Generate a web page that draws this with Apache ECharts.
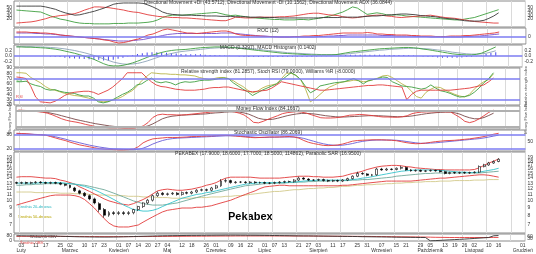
<!DOCTYPE html>
<html><head><meta charset="utf-8">
<script src="https://cdn.jsdelivr.net/npm/echarts@6/dist/echarts.min.js"></script>
<style>html,body{margin:0;padding:0;background:#fff}#c{width:536px;height:254px}</style>
</head><body><div id="c"></div>
<script>
const categories = ['2020-01-30','2020-02-03','2020-02-05','2020-02-07','2020-02-11','2020-02-13','2020-02-17','2020-02-19','2020-02-21','2020-02-25','2020-02-27','2020-03-02','2020-03-04','2020-03-06','2020-03-10','2020-03-12','2020-03-17','2020-03-19','2020-03-23','2020-03-25','2020-03-27','2020-04-01','2020-04-03','2020-04-07','2020-04-09','2020-04-14','2020-04-16','2020-04-20','2020-04-23','2020-04-27','2020-04-29','2020-05-04','2020-05-06','2020-05-08','2020-05-12','2020-05-14','2020-05-18','2020-05-20','2020-05-22','2020-05-26','2020-05-28','2020-06-01','2020-06-03','2020-06-05','2020-06-09','2020-06-12','2020-06-16','2020-06-18','2020-06-22','2020-06-24','2020-06-26','2020-07-01','2020-07-03','2020-07-07','2020-07-09','2020-07-13','2020-07-15','2020-07-17','2020-07-21','2020-07-23','2020-07-27','2020-07-29','2020-08-03','2020-08-05','2020-08-07','2020-08-11','2020-08-13','2020-08-17','2020-08-19','2020-08-21','2020-08-25','2020-08-27','2020-08-31','2020-09-01','2020-09-03','2020-09-07','2020-09-09','2020-09-11','2020-09-15','2020-09-17','2020-09-21','2020-09-23','2020-09-25','2020-09-29','2020-10-01','2020-10-05','2020-10-07','2020-10-09','2020-10-13','2020-10-15','2020-10-19','2020-10-22','2020-10-26','2020-10-28','2020-11-02','2020-11-04','2020-11-06','2020-11-10','2020-11-12','2020-11-16','2020-11-18','2020-11-20','2020-11-24','2020-11-26','2020-12-01'];
const monthNames = ['Styczeń','Luty','Marzec','Kwiecień','Maj','Czerwiec','Lipiec','Sierpień','Wrzesień','Październik','Listopad','Grudzień'];

// Panel 1: Directional Movement
const adx = [53,53,53,53,53,53,51,48,45,40,36,33,30,31,34,37,40,44,48,53,58,60,61,61,61,61,60,56,51,45,38,34,32,31,30,30,30,29,29,28,28,28,27,27,27,26,26,26,25,25,25,24,24,24,23,23,23,23,23,23,23,23,23,24,24,24,24,25,25,25,25,26,27,28,28,29,30,31,32,33,33,32,31,29,28,27,26,24,22,21,20,18,16,15,15,15,17,22,28,36];
const plusDI = [43,42,41,40,39,38,33,28,24,20,18,15,12,10,9,9,8,8,8,8,9,9,9,10,10,10,11,12,14,18,24,28,30,30,30,31,32,33,34,35,36,37,34,31,29,30,28,26,24,23,22,21,20,19,19,18,18,18,19,19,18,20,22,24,27,30,34,38,44,51,48,40,32,34,36,34,31,30,31,30,28,27,26,25,24,23,22,21,20,19,18,18,20,22,24,28,32,36,40,44];
const minusDI = [10,11,12,13,15,18,21,25,27,29,30,32,34,38,43,47,51,51,50,49,47,45,43,40,38,37,34,31,29,27,26,25,24,24,23,23,22,21,20,19,18,17,16,16,20,25,24,23,23,24,25,25,25,25,26,26,27,28,30,32,34,35,35,33,31,30,29,26,24,23,24,26,28,29,30,30,28,27,25,24,25,26,27,28,29,30,28,26,24,23,22,20,18,16,14,13,12,11,10,10];
// Panel 2: ROC
const roc = [5,5,5,4.5,4.5,4,4,3.5,3,2,1.5,1,0.5,0,-0.5,-1,-1.5,-2,-3,-3.5,-5,-6,-5.5,-4.5,-3,-2,0,2,3,5,7,8,7,6,5,4,4,3.5,4,4.5,5,5.5,6,6,5,3,2,1.5,1.5,1,1,0.5,0.5,0,0,0,0,0.5,0.5,1,1,1.5,1.5,2,2.5,3,3.5,4,4,4,4,4,4.5,4,3,3,2.5,2.5,2,2,2,1.5,1.5,1,1,1,0.5,0.5,0.5,1,1,1,1.5,1.5,2,2.5,3,3.5,4,5];
const rocSignal = [4,4,4,4,3.5,3.5,3,3,2.5,2,1.5,1,0.5,0,-0.5,-1,-1.5,-2,-2.5,-3,-3.5,-4,-4,-4,-3.5,-3,-2.5,-1.5,-0.5,0.5,1.5,2.5,3,3.5,3.5,3.5,3.5,3.5,3.5,3.5,3.5,3.5,4,4,4,3.5,3,2.5,2,1.5,1,1,0.5,0.5,0,0,0,0,0,0,0,0,0.5,0.5,1,1,1.5,1.5,2,2,2,2,2,2,2,1.5,1.5,1.5,1,1,1,1,0.5,0.5,0.5,0,0,0,0,0,0,0,0.5,0.5,1,1,1.5,2,2.5,3];
// Panel 3: MACD
const macd = [0.33,0.33,0.32,0.32,0.31,0.3,0.29,0.27,0.25,0.22,0.18,0.14,0.1,0.05,0,-0.06,-0.12,-0.2,-0.28,-0.34,-0.36,-0.36,-0.34,-0.3,-0.25,-0.19,-0.12,-0.05,0.02,0.08,0.13,0.17,0.2,0.22,0.23,0.24,0.26,0.28,0.3,0.31,0.32,0.33,0.33,0.33,0.32,0.3,0.28,0.26,0.24,0.22,0.2,0.18,0.16,0.14,0.12,0.1,0.09,0.08,0.07,0.06,0.05,0.04,0.04,0.04,0.04,0.04,0.05,0.08,0.11,0.14,0.16,0.18,0.2,0.22,0.24,0.26,0.27,0.28,0.29,0.3,0.31,0.31,0.3,0.28,0.25,0.23,0.2,0.17,0.14,0.11,0.08,0.06,0.05,0.04,0.04,0.06,0.1,0.17,0.25,0.33];
const macdSignal = [0.34,0.34,0.34,0.34,0.33,0.33,0.32,0.31,0.3,0.28,0.26,0.23,0.2,0.16,0.12,0.07,0.02,-0.04,-0.1,-0.16,-0.22,-0.26,-0.29,-0.3,-0.29,-0.27,-0.23,-0.18,-0.12,-0.06,0,0.05,0.09,0.13,0.16,0.18,0.2,0.22,0.24,0.26,0.28,0.29,0.3,0.31,0.31,0.31,0.3,0.29,0.28,0.26,0.24,0.22,0.2,0.18,0.16,0.14,0.12,0.11,0.1,0.09,0.08,0.07,0.06,0.05,0.05,0.05,0.05,0.06,0.07,0.09,0.11,0.13,0.15,0.17,0.19,0.21,0.22,0.24,0.25,0.26,0.27,0.28,0.28,0.28,0.27,0.26,0.24,0.22,0.2,0.17,0.14,0.12,0.1,0.08,0.07,0.07,0.08,0.1,0.14,0.19];
const macdHist = [0,0,0,0,0,0,0,-0.02,-0.03,-0.04,-0.06,-0.08,-0.09,-0.1,-0.11,-0.12,-0.13,-0.14,-0.16,-0.17,-0.14,-0.1,-0.06,-0.02,0.03,0.07,0.1,0.13,0.14,0.14,0.13,0.12,0.11,0.09,0.07,0.06,0.06,0.06,0.06,0.05,0.04,0.04,0.03,0.02,0.01,0,-0.02,-0.03,-0.04,-0.04,-0.04,-0.04,-0.04,-0.04,-0.04,-0.04,-0.03,-0.03,-0.03,-0.03,-0.03,-0.03,-0.02,-0.01,-0.01,-0.01,0,0.02,0.04,0.05,0.05,0.05,0.05,0.05,0.05,0.05,0.05,0.04,0.04,0.04,0.04,0.03,0.02,0,-0.02,-0.03,-0.04,-0.05,-0.06,-0.06,-0.06,-0.06,-0.05,-0.04,-0.03,-0.01,0.02,0.07,0.11,0.14];
// Panel 4: RSI family
const williamsR = [64,64,65,60,57,55,50,48,49,46,44,43,42,39,37,37,33,26,24,26,30,35,40,44,50,58,60,66,71,64,62,64,62,58,62,64,63,64,66,67,67,68,70,71,70,62,56,50,45,38,43,48,52,56,60,67,74,81,76,68,55,43,48,56,58,60,62,63,64,67,70,66,60,66,68,70,73,72,64,60,56,55,54,52,50,52,58,52,47,45,42,38,35,36,38,44,52,62,70,81];
const stochRsi = [81,81,80,72,67,62,55,50,48,45,42,40,38,37,35,33,30,28,26,27,29,32,36,42,47,55,66,74,81,80,79,79,78,78,77,77,76,75,72,70,68,70,72,72,70,66,60,55,48,43,46,52,56,58,60,70,80,80,76,68,50,26,32,40,48,54,58,62,64,65,67,66,64,65,68,71,75,76,72,66,60,55,46,36,33,44,50,54,53,48,44,40,37,35,40,50,58,64,68,79];
const rsi = [73,72,70,55,35,26,25,24,27,32,38,42,44,45,46,46,44,40,44,48,54,62,70,81,81,81,81,72,64,58,55,54,52,50,49,48,48,48,49,50,52,53,53,54,54,52,50,48,46,45,46,47,48,52,58,64,62,60,58,56,54,52,50,48,48,49,50,51,52,53,54,55,56,57,57,58,58,57,56,55,54,30,40,46,48,48,48,48,48,48,48,49,50,51,52,54,56,58,64,71];
// Panel 5: Money Flow Index
const mfi = [84,83,82,80,78,76,72,66,58,50,44,40,37,33,28,24,20,18,16,15,15,15,14,14,14,16,22,35,55,65,68,66,66,65,65,66,68,70,72,74,76,78,80,80,80,77,72,65,52,36,34,40,48,55,62,70,74,76,78,76,72,66,60,54,53,53,54,56,60,64,65,67,66,64,62,59,57,57,56,56,58,62,70,74,76,77,77,77,78,77,77,66,55,40,35,40,50,62,75,84];
const mfiSignal = [82,82,81,80,79,77,75,71,67,62,57,52,47,43,39,35,31,28,25,22,20,18,17,16,16,16,18,22,30,40,50,56,60,62,64,65,66,67,68,69,71,73,74,76,77,77,76,73,68,60,52,48,47,48,52,57,62,66,69,71,71,70,68,65,62,60,58,57,57,58,59,60,61,62,62,62,61,60,59,58,58,59,61,64,67,70,72,74,75,76,76,73,68,60,54,50,50,55,63,72];
// Panel 6: Stochastic
const stochK = [86,85,84,82,80,79,78,72,66,60,55,48,42,36,32,28,24,20,18,17,16,15,15,16,18,28,45,55,62,64,66,68,68,68,69,70,72,72,73,74,75,76,77,77,76,74,72,70,68,67,68,69,70,70,70,71,72,70,65,55,47,42,38,34,33,34,36,40,46,52,55,56,57,58,58,58,57,56,54,50,46,43,41,42,44,47,50,52,54,55,56,58,60,62,65,68,72,77,82,86];
const stochD = [84,84,83,82,81,80,78,75,71,66,61,55,50,45,40,35,31,27,24,21,19,18,17,16,16,17,22,30,40,48,55,60,63,65,66,67,68,69,70,71,72,73,74,75,75,75,74,72,71,69,68,68,69,69,70,70,70,70,68,64,58,52,46,41,37,35,34,35,38,42,47,51,54,56,57,57,57,57,56,54,51,48,45,43,43,44,45,47,49,51,53,55,57,59,61,63,66,70,74,78];
// Panel 7: price
const open = [13.1,13.0,13.1,13.0,13.1,13.2,13.1,13.0,13.1,13.0,12.8,12.6,12.1,11.6,11.2,10.8,10.3,9.6,8.8,8.1,8.4,8.3,8.4,8.3,8.4,8.8,9.2,9.7,10.1,10.8,11.2,11.0,11.1,11.2,11.0,11.3,11.2,11.4,11.7,11.8,11.7,12.1,12.5,13.4,13.5,13.1,13.2,13.2,13.1,13.2,13.1,13.1,13.0,13.0,13.1,13.2,13.3,13.3,13.6,14.0,13.8,13.6,13.6,13.7,13.5,13.4,13.5,13.4,13.6,13.9,14.4,15.0,14.9,14.6,14.7,16.0,15.8,16.0,15.9,16.2,16.4,15.8,15.6,15.7,15.5,15.6,15.7,15.6,15.4,15.0,15.2,15.1,15.2,15.1,15.2,15.3,16.6,17.0,17.5,17.9];
const close = [13.0,13.1,13.0,13.1,13.2,13.1,13.0,13.1,13.0,12.8,12.6,12.2,11.6,11.2,10.8,10.3,9.7,8.8,8.1,8.4,8.3,8.4,8.3,8.4,8.8,9.2,9.7,10.1,10.8,11.2,11.0,11.1,11.2,11.0,11.3,11.2,11.4,11.7,11.8,11.7,12.1,12.5,13.4,13.5,13.1,13.2,13.2,13.1,13.2,13.1,13.1,13.0,13.0,13.1,13.2,13.3,13.3,13.6,14.0,13.8,13.6,13.6,13.7,13.5,13.4,13.5,13.4,13.6,13.9,14.4,15.0,14.9,14.6,14.7,16.0,15.8,16.0,15.9,16.2,16.4,15.8,15.6,15.7,15.5,15.6,15.7,15.6,15.4,15.0,15.2,15.1,15.2,15.1,15.2,15.3,16.6,17.0,17.5,17.9,18.5];
const high = [13.3,13.3,13.3,13.3,13.4,13.4,13.3,13.3,13.3,13.2,12.9,12.7,12.3,11.8,11.4,11.0,10.5,9.8,9.0,8.6,8.6,8.6,8.6,8.6,8.9,9.3,9.8,10.3,11.0,11.5,11.4,11.3,11.4,11.4,11.5,11.5,11.6,11.9,12.0,12.0,12.3,12.7,13.8,13.9,13.7,13.4,13.4,13.4,13.4,13.4,13.3,13.3,13.2,13.3,13.4,13.5,13.5,13.8,14.3,14.2,14.0,13.8,13.9,13.9,13.7,13.7,13.7,13.8,14.1,14.6,15.4,15.3,15.1,14.9,16.3,16.3,16.3,16.2,16.4,16.8,16.6,16.0,15.9,15.9,15.8,15.9,15.9,15.8,15.6,15.4,15.4,15.4,15.4,15.4,15.5,16.9,17.3,17.8,18.2,18.8];
const low = [12.8,12.8,12.8,12.8,12.9,12.9,12.8,12.8,12.8,12.6,12.4,12.0,11.4,11.0,10.6,10.1,9.5,8.5,7.8,7.9,8.1,8.1,8.1,8.1,8.2,8.6,9.0,9.5,9.9,10.6,10.8,10.8,10.9,10.8,10.8,11.0,11.0,11.2,11.5,11.5,11.5,11.9,12.3,13.1,12.9,12.9,13.0,12.9,12.9,12.9,12.9,12.8,12.8,12.8,12.9,13.0,13.1,13.1,13.4,13.6,13.4,13.4,13.4,13.3,13.2,13.2,13.2,13.2,13.4,13.7,14.2,14.7,14.4,14.4,14.5,15.6,15.6,15.7,15.7,15.9,15.6,15.4,15.4,15.3,15.3,15.4,15.4,15.2,14.8,14.8,14.9,14.9,14.9,14.9,15.0,15.1,16.4,16.8,17.3,17.7];
const bbUpper = [14.2,14.3,14.3,14.3,14.2,14.1,14.0,14.0,13.9,13.6,13.4,13.1,12.8,12.3,11.9,11.5,11.1,10.7,10.3,10.0,9.8,9.6,9.5,9.4,9.6,9.9,10.2,10.6,11.1,11.6,11.8,11.9,11.8,11.7,11.7,11.8,11.9,12.1,12.3,12.6,12.8,13.1,13.6,14.0,14.2,14.2,14.2,14.2,14.2,14.1,14.0,14.0,14.0,14.0,14.0,14.1,14.2,14.3,14.4,14.4,14.4,14.3,14.3,14.2,14.2,14.2,14.3,14.4,14.7,15.0,15.2,15.5,15.9,16.2,16.5,16.7,16.8,16.9,16.9,16.8,16.6,16.5,16.3,16.2,16.1,16.0,15.9,15.9,15.8,15.8,15.8,15.8,15.8,15.8,15.9,16.3,16.9,17.5,18.0,18.6];
const bbLower = [9.4,9.6,9.8,10.0,10.2,10.4,10.6,10.8,10.9,10.9,10.9,10.9,10.8,10.6,10.2,9.6,9.0,8.3,7.7,7.2,6.9,6.8,6.8,6.8,6.9,7.0,7.3,7.6,7.9,8.2,8.5,8.7,8.8,8.9,9.0,9.0,9.0,9.1,9.1,9.2,9.3,9.5,9.7,9.9,10.1,10.4,10.7,11.0,11.3,11.6,12.0,12.3,12.4,12.5,12.6,12.6,12.5,12.5,12.5,12.5,12.5,12.5,12.5,12.5,12.5,12.5,12.5,12.6,12.6,12.7,12.8,12.9,13.0,13.1,13.2,13.3,13.4,13.4,13.4,13.4,13.4,13.4,13.5,13.6,13.7,13.8,13.9,14.0,14.0,14.1,14.2,14.3,14.4,14.5,14.6,14.7,14.7,14.6,14.4,14.2];
const ma20 = [13.0,13.0,13.0,13.0,13.0,13.1,13.1,13.1,13.1,13.1,13.0,12.9,12.8,12.6,12.4,12.1,11.8,11.4,11.0,10.6,10.2,9.8,9.4,9.1,8.8,8.7,8.6,8.6,8.7,8.9,9.2,9.5,9.8,10.1,10.4,10.6,10.8,11.0,11.1,11.3,11.4,11.6,11.8,12.0,12.2,12.4,12.6,12.8,12.9,13.0,13.1,13.1,13.1,13.1,13.1,13.1,13.2,13.2,13.3,13.4,13.5,13.5,13.6,13.6,13.6,13.6,13.6,13.6,13.6,13.7,13.8,14.0,14.1,14.3,14.5,14.7,14.9,15.1,15.3,15.5,15.6,15.7,15.8,15.8,15.8,15.8,15.7,15.7,15.6,15.5,15.4,15.3,15.3,15.2,15.2,15.3,15.5,15.7,15.9,16.2];
const ma50 = [12.6,12.6,12.7,12.7,12.8,12.8,12.9,12.9,12.9,12.9,12.9,12.9,12.8,12.7,12.6,12.4,12.2,12.0,11.8,11.5,11.2,10.9,10.6,10.3,10.0,9.8,9.6,9.5,9.4,9.4,9.4,9.5,9.6,9.7,9.9,10.1,10.3,10.5,10.7,10.9,11.1,11.3,11.5,11.7,11.9,12.1,12.3,12.5,12.6,12.7,12.8,12.9,12.9,13.0,13.0,13.0,13.1,13.1,13.2,13.2,13.3,13.3,13.4,13.4,13.4,13.5,13.5,13.5,13.5,13.6,13.6,13.7,13.7,13.8,13.9,14.0,14.1,14.2,14.4,14.5,14.6,14.7,14.8,14.9,15.0,15.0,15.1,15.1,15.1,15.1,15.1,15.1,15.1,15.1,15.1,15.1,15.2,15.3,15.4,15.5];
const ma200 = [11.4,11.4,11.4,11.4,11.3,11.3,11.3,11.3,11.3,11.2,11.2,11.2,11.1,11.1,11.1,11.0,11.0,10.9,10.9,10.9,10.8,10.8,10.8,10.7,10.7,10.7,10.6,10.6,10.6,10.5,10.5,10.5,10.4,10.4,10.4,10.4,10.4,10.5,10.5,10.5,10.6,10.6,10.6,10.7,10.7,10.8,10.8,10.9,11.0,11.1,11.2,11.3,11.4,11.5,11.5,11.6,11.7,11.8,11.8,11.9,12.0,12.0,12.1,12.1,12.2,12.2,12.3,12.4,12.4,12.5,12.6,12.6,12.7,12.7,12.8,12.8,12.9,12.9,13.0,13.0,13.1,13.1,13.2,13.2,13.3,13.3,13.3,13.4,13.4,13.4,13.5,13.5,13.5,13.5,13.6,13.6,13.6,13.7,13.7,13.7];
// Panel 8: On Balance Volume
const obv = [72,72,71,70,70,70,69,68,66,64,62,60,58,56,55,54,53,52,52,52,53,54,56,58,60,62,64,66,68,70,72,73,74,75,76,77,78,78,79,80,80,81,81,82,82,82,81,81,80,80,79,78,77,76,75,74,73,72,71,70,70,69,68,67,66,65,64,63,62,61,60,58,57,56,55,54,53,52,50,49,48,47,46,45,45,-8,-4,0,4,8,12,16,20,25,30,35,40,45,72,76];
const obvAvg = [63,63,63,63,63,63,63,63,63,62,62,62,61,61,61,60,60,60,59,59,59,59,59,59,59,60,60,60,61,61,62,62,63,63,64,64,65,65,66,66,67,67,68,68,68,69,69,69,69,69,69,69,69,69,69,69,69,68,68,68,68,67,67,66,66,65,65,64,64,63,63,62,62,61,60,60,59,58,57,56,56,55,54,53,52,50,48,47,46,45,45,45,45,45,45,45,45,45,46,46];
const priceTicks = [7,8,9,10,11,12,13,14,15,16,17,18,19,20];

const FONT = 'Liberation Sans';
const lab = (extra) => Object.assign({fontSize:5, color:'#333', fontFamily:FONT, margin:2}, extra||{});
const panels = [[1,26],[28,16],[45,22],[68,37],[106,23],[130,21],[152,81],[234,12]];
const grids = panels.map(p => ({left:14, right:10, top:p[0], height:p[1], show:true, borderColor:'#8a8a8a', borderWidth:1, backgroundColor:'#fff'}));

// weekly labels: first category of each calendar week (from the 2nd category on)
const weekOf = c => { const d = new Date(c + 'T00:00:00Z'); const wd = (d.getUTCDay() + 6) % 7; return Math.round((d.getTime() / 86400000 - wd)); };
const labelSet = new Set(); const gridSet = new Set(); const monthStart = new Set();
let prevW = null, prevM = -1, wcount = 0;
categories.forEach((c, i) => {
  const w = weekOf(c);
  if (i > 0 && w !== prevW) {
    labelSet.add(i);
    if (wcount % 2 === 0) gridSet.add(i);
    wcount++;
    const m = +c.slice(5, 7);
    if (m !== prevM) { monthStart.add(i); prevM = m; }
  }
  prevW = w;
});

const xAxes = panels.map((p,k) => ({
  type:'category', gridIndex:k, data:categories, boundaryGap:true,
  axisLine:{show:false}, axisTick:{show:false},
  axisLabel: k === 7 ? {show:true, interval:(i)=>labelSet.has(i), showMaxLabel:true, fontSize:5, color:'#333', fontFamily:FONT, margin:2, lineHeight:5,
     formatter:(v,i)=> monthStart.has(i) ? v.slice(8)+'\n{m|'+monthNames[+v.slice(5,7)-1]+'}' : v.slice(8),
     rich:{m:{fontSize:5, color:'#333', fontFamily:FONT, lineHeight:6}}} : {show:false},
  splitLine:{show:true, interval:(i)=> gridSet.has(i), lineStyle:{color:'#dadada', width:1}}
}));

const yAxes = [];
function addY(g, cfg, side, labelCfg, extra) {
  yAxes.push(Object.assign({type:'value', gridIndex:g, position:side, axisLine:{show:false}, axisTick:{show:false}, splitLine:{show:false}, axisLabel: labelCfg ? lab(labelCfg) : {show:false}}, cfg, extra||{}));
  return yAxes.length - 1;
}
const nameCfg = (n) => ({name:n, nameLocation:'middle', nameGap:4, nameRotate:90, nameTextStyle:{fontSize:4, color:'#555', fontFamily:FONT}});
const y1 = addY(0, {min:0, max:66}, 'left', {customValues:[10,20,30,40,50,60]});
addY(0, {min:0, max:66}, 'right', {customValues:[10,20,30,40,50,60]});
const y2 = addY(1, {min:-7, max:9}, 'left', null);
addY(1, {min:-7, max:9}, 'right', {customValues:[0]});
const y3 = addY(2, {min:-0.4, max:0.4}, 'left', {customValues:[-0.2,0,0.2], formatter:v=>v.toFixed(1)});
addY(2, {min:-0.4, max:0.4}, 'right', {customValues:[-0.2,0,0.2], formatter:v=>v.toFixed(1)});
const y4 = addY(3, {min:20, max:90}, 'left', {customValues:[20,30,40,50,60,70,80,90]});
addY(3, {min:20, max:90}, 'right', null, nameCfg('Relative strength index'));
const y5 = addY(4, {min:10, max:100}, 'left', null, nameCfg('Money Flow Index'));
addY(4, {min:10, max:100}, 'right', null, nameCfg('Money Flow Index'));
const y6 = addY(5, {min:10, max:100}, 'left', {customValues:[20,80]});
addY(5, {min:10, max:100}, 'right', {customValues:[50]});
const y7 = addY(6, {type:'log', logBase:10, min:6.22, max:20.6}, 'left', {customValues:priceTicks});
addY(6, {type:'log', logBase:10, min:6.22, max:20.6}, 'right', {customValues:priceTicks});
const y8 = addY(7, {min:-10, max:100}, 'left', {customValues:[0,80]});
addY(7, {min:-10, max:100}, 'right', {customValues:[0,30,60,90]});

const line = (g, y, data, color, width, extra) => Object.assign({type:'line', xAxisIndex:g, yAxisIndex:y, data, symbol:'none', showSymbol:false, silent:true, lineStyle:{color, width:width||0.9}, itemStyle:{color}, z:3}, extra||{});
const hLines = (vals, color, width) => ({silent:true, symbol:'none', label:{show:false}, lineStyle:{color, width, type:'solid'}, data: vals.map(v => ({yAxis:v}))});

const candleData = close.map((c,i) => [open[i], c, low[i], high[i]]);

const series = [
  line(0, y1, plusDI, '#3f9f3f'),
  line(0, y1, minusDI, '#e23b3b'),
  line(0, y1, adx, '#3a3a3a'),
  line(1, y2, rocSignal, '#7a4fc8', 0.9, {markLine: hLines([0], '#7c7cf2', 1.5)}),
  line(1, y2, roc, '#e23b3b'),
  {type:'bar', xAxisIndex:2, yAxisIndex:y3, data:macdHist, barWidth:1, itemStyle:{color:'#4848e8'}, silent:true, markLine: hLines([0], '#7c7cf2', 1.5)},
  line(2, y3, macdSignal, '#8da4b8'),
  line(2, y3, macd, '#3f9f3f'),
  line(3, y4, stochRsi, '#b9b44a', 0.9, {markLine: hLines([70,30], '#7c7cf2', 1.5)}),
  line(3, y4, williamsR, '#3f9f3f'),
  line(3, y4, rsi, '#e23b3b'),
  line(4, y5, mfiSignal, '#7a4a4a', 0.9, {markLine: hLines([80,20], '#b0b0b0', 2)}),
  line(4, y5, mfi, '#e23b3b'),
  line(5, y6, stochD, '#6a5cd8', 0.9, {markLine: hLines([80,20], '#7c7cf2', 1.5)}),
  line(5, y6, stochK, '#e23b3b'),
  line(6, y7, ma200, '#d2c98a'),
  line(6, y7, bbUpper, '#e23b3b'),
  line(6, y7, bbLower, '#e23b3b'),
  line(6, y7, ma50, '#6fa89a'),
  line(6, y7, ma20, '#35c4cc'),
  {type:'candlestick', xAxisIndex:6, yAxisIndex:y7, data:candleData, barMaxWidth:3, silent:true, z:4,
   itemStyle:{color:'#ffffff', color0:'#000000', borderColor:'#000000', borderColor0:'#000000', borderWidth:0.6}},
  line(7, y8, obvAvg, '#e23b3b'),
  line(7, y8, obv, '#333333')
];

const tstyle = {fontSize:5, fontWeight:'normal', color:'#333', fontFamily:FONT};
const titles = [
  ['Directional Movement +DI (43.5712), Directional Movement -DI (10.1562), Directional Movement ADX (36.0844)', 0],
  ['ROC (12)', 28],
  ['MACD (0.3297), MACD Histogram (0.1402)', 45],
  ['Relative strength index (81.2857), Stoch RSI (79.0000), Williams %R (-8.0000)', 69],
  ['Money Flow Index (84.1667)', 106],
  ['Stochastic Oscillator (86.2069)', 130],
  ['PEKABEX (17.9000, 18.6000, 17.7000, 18.5000, 114862), Parabolic SAR (16.9500)', 151]
].map(t => ({text:t[0], left:'center', top:t[1], padding:0, textStyle:tstyle}));

const chart = echarts.init(document.getElementById('c'), null, {renderer:'canvas'});
chart.setOption({
  animation:false,
  backgroundColor:'#ffffff',
  title: titles,
  grid: grids,
  xAxis: xAxes,
  yAxis: yAxes,
  series: series,
  graphic: [
    {type:'text', left:228, top:211, style:{text:'Pekabex', font:'bold 11px "Liberation Sans"', fill:'#000'}},
    {type:'text', left:18, top:205, style:{text:'Średnia 20-dniowa', font:'4px "Liberation Sans"', fill:'#2ab7c0'}},
    {type:'text', left:18, top:215, style:{text:'Średnia 50-dniowa', font:'4px "Liberation Sans"', fill:'#b8a400'}},
    {type:'text', left:30, top:235, style:{text:'Wskaźnik OBV', font:'4px "Liberation Sans"', fill:'#333'}},
    {type:'text', left:20, top:241, style:{text:'Średnia OBV', font:'4px "Liberation Sans"', fill:'#e23b3b'}},
    {type:'text', left:16, top:95, style:{text:'RSI', font:'4px "Liberation Sans"', fill:'#e23b3b'}},
    {type:'text', left:16, top:79, style:{text:'%R', font:'4px "Liberation Sans"', fill:'#3f9f3f'}}
  ]
});
</script></body></html>
